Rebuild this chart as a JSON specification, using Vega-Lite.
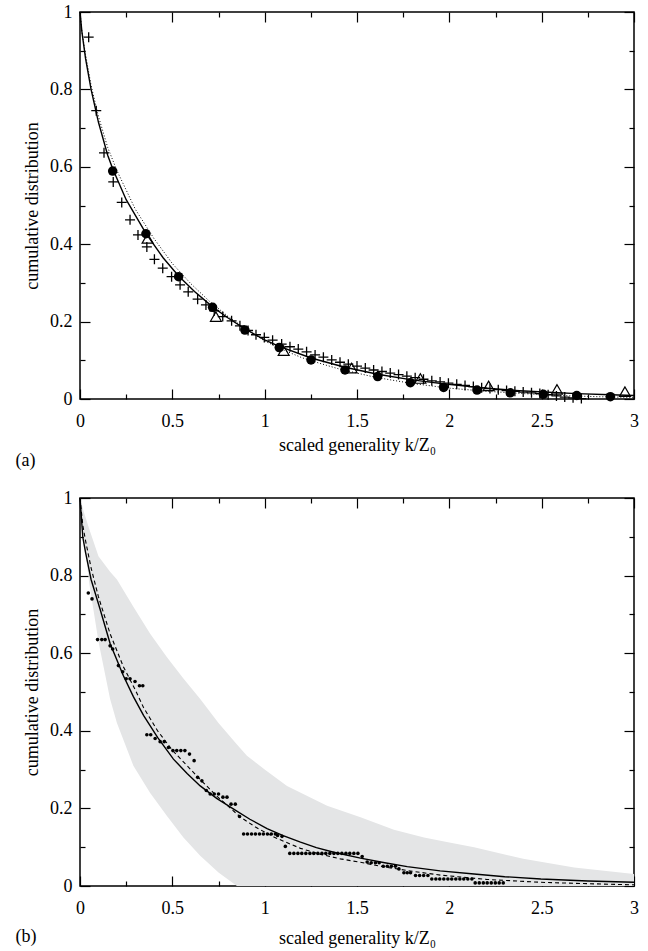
{
"$schema": "https://vega.github.io/schema/vega-lite/v6.json",
"padding": {"left": 14, "top": 2, "right": 12, "bottom": 0},
"spacing": 17,
"config": {
 "font": "Liberation Serif",
 "view": {"stroke": "black", "strokeWidth": 1.5},
 "axis": {"labelFont": "Liberation Serif", "labelFontSize": 18, "titleFont": "Liberation Serif", "titleFontSize": 18, "titleFontWeight": "normal", "labelColor": "black", "titleColor": "black", "tickColor": "black", "tickWidth": 1.2, "domain": false, "grid": false, "labelFlush": false, "labelOverlap": false}
},
"datasets": {
 "a_solid": [{"k":0,"v":1},{"k":0.01,"v":0.95},{"k":0.03,"v":0.88},{"k":0.06,"v":0.8},{"k":0.1,"v":0.715},{"k":0.15,"v":0.63},{"k":0.177,"v":0.595},{"k":0.25,"v":0.515},{"k":0.357,"v":0.428},{"k":0.45,"v":0.365},{"k":0.534,"v":0.318},{"k":0.62,"v":0.278},{"k":0.718,"v":0.238},{"k":0.8,"v":0.21},{"k":0.893,"v":0.181},{"k":1.0,"v":0.153},{"k":1.079,"v":0.136},{"k":1.251,"v":0.106},{"k":1.435,"v":0.082},{"k":1.612,"v":0.064},{"k":1.789,"v":0.05},{"k":1.969,"v":0.039},{"k":2.15,"v":0.03},{"k":2.33,"v":0.023},{"k":2.509,"v":0.018},{"k":2.69,"v":0.014},{"k":2.872,"v":0.011},{"k":3.0,"v":0.009}],
 "a_dot": [{"k":0,"v":1},{"k":0.01,"v":0.95},{"k":0.03,"v":0.89},{"k":0.06,"v":0.81},{"k":0.1,"v":0.73},{"k":0.15,"v":0.65},{"k":0.2,"v":0.59},{"k":0.3,"v":0.49},{"k":0.4,"v":0.415},{"k":0.5,"v":0.35},{"k":0.6,"v":0.298},{"k":0.7,"v":0.253},{"k":0.8,"v":0.214},{"k":0.9,"v":0.18},{"k":1.0,"v":0.15},{"k":1.1,"v":0.127},{"k":1.2,"v":0.107},{"k":1.3,"v":0.092},{"k":1.4,"v":0.078},{"k":1.6,"v":0.056},{"k":1.8,"v":0.04},{"k":2.0,"v":0.028},{"k":2.2,"v":0.02},{"k":2.4,"v":0.014},{"k":2.6,"v":0.009},{"k":2.8,"v":0.006},{"k":3.0,"v":0.004}],
 "a_cross": [{"k":0.047,"v":0.935},{"k":0.088,"v":0.745},{"k":0.13,"v":0.636},{"k":0.18,"v":0.561},{"k":0.226,"v":0.508},{"k":0.271,"v":0.463},{"k":0.314,"v":0.424},{"k":0.362,"v":0.393},{"k":0.403,"v":0.361},{"k":0.448,"v":0.338},{"k":0.496,"v":0.316},{"k":0.542,"v":0.295},{"k":0.586,"v":0.277},{"k":0.637,"v":0.258},{"k":0.682,"v":0.243},{"k":0.727,"v":0.228},{"k":0.773,"v":0.213},{"k":0.821,"v":0.202},{"k":0.866,"v":0.189},{"k":0.91,"v":0.177},{"k":0.953,"v":0.166},{"k":0.998,"v":0.159},{"k":1.043,"v":0.152},{"k":1.092,"v":0.142},{"k":1.137,"v":0.135},{"k":1.182,"v":0.129},{"k":1.227,"v":0.122},{"k":1.273,"v":0.114},{"k":1.318,"v":0.108},{"k":1.363,"v":0.101},{"k":1.408,"v":0.095},{"k":1.453,"v":0.09},{"k":1.5,"v":0.085},{"k":1.545,"v":0.08},{"k":1.59,"v":0.075},{"k":1.635,"v":0.071},{"k":1.68,"v":0.067},{"k":1.725,"v":0.063},{"k":1.77,"v":0.059},{"k":1.815,"v":0.055},{"k":1.86,"v":0.051},{"k":1.905,"v":0.047},{"k":1.95,"v":0.044},{"k":1.995,"v":0.041},{"k":2.04,"v":0.038},{"k":2.085,"v":0.035},{"k":2.13,"v":0.032},{"k":2.175,"v":0.029},{"k":2.22,"v":0.027},{"k":2.265,"v":0.024},{"k":2.31,"v":0.022},{"k":2.355,"v":0.02},{"k":2.4,"v":0.018},{"k":2.445,"v":0.016},{"k":2.49,"v":0.014},{"k":2.535,"v":0.011},{"k":2.58,"v":0.008},{"k":2.625,"v":0.005},{"k":2.67,"v":0.003},{"k":2.715,"v":0.001}],
 "a_circle": [{"k":0.177,"v":0.589},{"k":0.357,"v":0.427},{"k":0.534,"v":0.316},{"k":0.718,"v":0.237},{"k":0.893,"v":0.178},{"k":1.079,"v":0.133},{"k":1.251,"v":0.101},{"k":1.435,"v":0.075},{"k":1.612,"v":0.058},{"k":1.789,"v":0.042},{"k":1.969,"v":0.03},{"k":2.15,"v":0.023},{"k":2.33,"v":0.016},{"k":2.509,"v":0.012},{"k":2.69,"v":0.009},{"k":2.872,"v":0.006}],
 "a_tri": [{"k":0.366,"v":0.415},{"k":0.736,"v":0.213},{"k":1.103,"v":0.125},{"k":1.471,"v":0.08},{"k":1.843,"v":0.053},{"k":2.213,"v":0.034},{"k":2.583,"v":0.025},{"k":2.951,"v":0.019}],
 "b_band": [{"k":0,"v":1,"lo":1},{"k":0.02,"v":0.965,"lo":0.9},{"k":0.05,"v":0.92,"lo":0.78},{"k":0.1,"v":0.85,"lo":0.63},{"k":0.163,"v":0.81,"lo":0.482},{"k":0.2,"v":0.79,"lo":0.42},{"k":0.289,"v":0.72,"lo":0.31},{"k":0.38,"v":0.65,"lo":0.24},{"k":0.47,"v":0.59,"lo":0.181},{"k":0.56,"v":0.535,"lo":0.125},{"k":0.651,"v":0.482,"lo":0.078},{"k":0.75,"v":0.42,"lo":0.035},{"k":0.85,"v":0.365,"lo":0},{"k":0.904,"v":0.336,"lo":0},{"k":1.0,"v":0.3,"lo":0},{"k":1.121,"v":0.258,"lo":0},{"k":1.338,"v":0.207,"lo":0},{"k":1.519,"v":0.177,"lo":0},{"k":1.7,"v":0.145,"lo":0},{"k":1.863,"v":0.125,"lo":0},{"k":2.0,"v":0.112,"lo":0},{"k":2.134,"v":0.1,"lo":0},{"k":2.4,"v":0.07,"lo":0},{"k":2.676,"v":0.048,"lo":0},{"k":3.0,"v":0.031,"lo":0}],
 "b_solid": [{"k":0,"v":1},{"k":0.015,"v":0.9},{"k":0.03,"v":0.86},{"k":0.06,"v":0.79},{"k":0.1085,"v":0.714},{"k":0.163,"v":0.625},{"k":0.235,"v":0.542},{"k":0.289,"v":0.488},{"k":0.344,"v":0.44},{"k":0.42,"v":0.383},{"k":0.506,"v":0.327},{"k":0.58,"v":0.29},{"k":0.651,"v":0.258},{"k":0.74,"v":0.226},{"k":0.832,"v":0.198},{"k":0.92,"v":0.172},{"k":1.013,"v":0.148},{"k":1.1,"v":0.13},{"k":1.194,"v":0.113},{"k":1.28,"v":0.099},{"k":1.374,"v":0.087},{"k":1.519,"v":0.072},{"k":1.65,"v":0.06},{"k":1.772,"v":0.05},{"k":1.95,"v":0.039},{"k":2.134,"v":0.031},{"k":2.3,"v":0.024},{"k":2.496,"v":0.018},{"k":2.75,"v":0.013},{"k":3.0,"v":0.0095}],
 "b_dash": [{"k":0,"v":1},{"k":0.015,"v":0.93},{"k":0.03,"v":0.89},{"k":0.06,"v":0.82},{"k":0.1,"v":0.745},{"k":0.163,"v":0.65},{"k":0.235,"v":0.565},{"k":0.3,"v":0.505},{"k":0.344,"v":0.46},{"k":0.42,"v":0.4},{"k":0.5,"v":0.35},{"k":0.56,"v":0.32},{"k":0.65,"v":0.275},{"k":0.74,"v":0.232},{"k":0.868,"v":0.178},{"k":0.95,"v":0.152},{"k":1.05,"v":0.126},{"k":1.194,"v":0.097},{"k":1.3,"v":0.082},{"k":1.41,"v":0.07},{"k":1.519,"v":0.061},{"k":1.65,"v":0.049},{"k":1.8,"v":0.038},{"k":1.953,"v":0.028},{"k":2.2,"v":0.017},{"k":2.496,"v":0.0095},{"k":2.75,"v":0.006},{"k":3.0,"v":0.003}],
 "b_dots": [{"k":0.045,"v":0.755},{"k":0.065,"v":0.74},{"k":0.095,"v":0.635},{"k":0.118,"v":0.635},{"k":0.136,"v":0.635},{"k":0.163,"v":0.619},{"k":0.177,"v":0.611},{"k":0.208,"v":0.568},{"k":0.231,"v":0.552},{"k":0.25,"v":0.534},{"k":0.271,"v":0.534},{"k":0.298,"v":0.527},{"k":0.322,"v":0.516},{"k":0.34,"v":0.516},{"k":0.362,"v":0.39},{"k":0.383,"v":0.39},{"k":0.407,"v":0.38},{"k":0.434,"v":0.372},{"k":0.456,"v":0.372},{"k":0.479,"v":0.357},{"k":0.503,"v":0.349},{"k":0.524,"v":0.349},{"k":0.546,"v":0.349},{"k":0.568,"v":0.349},{"k":0.593,"v":0.34},{"k":0.618,"v":0.323},{"k":0.637,"v":0.28},{"k":0.66,"v":0.271},{"k":0.684,"v":0.246},{"k":0.705,"v":0.237},{"k":0.727,"v":0.237},{"k":0.75,"v":0.237},{"k":0.774,"v":0.229},{"k":0.796,"v":0.229},{"k":0.818,"v":0.211},{"k":0.841,"v":0.211},{"k":0.864,"v":0.179},{"k":0.886,"v":0.134},{"k":0.907,"v":0.134},{"k":0.929,"v":0.134},{"k":0.95,"v":0.134},{"k":0.972,"v":0.134},{"k":0.993,"v":0.134},{"k":1.015,"v":0.134},{"k":1.036,"v":0.134},{"k":1.058,"v":0.134},{"k":1.07,"v":0.13},{"k":1.094,"v":0.128},{"k":1.112,"v":0.102},{"k":1.136,"v":0.084},{"k":1.158,"v":0.084},{"k":1.18,"v":0.084},{"k":1.201,"v":0.084},{"k":1.223,"v":0.084},{"k":1.245,"v":0.084},{"k":1.266,"v":0.084},{"k":1.288,"v":0.084},{"k":1.31,"v":0.084},{"k":1.331,"v":0.084},{"k":1.353,"v":0.084},{"k":1.375,"v":0.084},{"k":1.396,"v":0.084},{"k":1.418,"v":0.084},{"k":1.44,"v":0.084},{"k":1.461,"v":0.084},{"k":1.483,"v":0.084},{"k":1.505,"v":0.084},{"k":1.528,"v":0.076},{"k":1.555,"v":0.062},{"k":1.577,"v":0.06},{"k":1.6,"v":0.06},{"k":1.62,"v":0.06},{"k":1.642,"v":0.051},{"k":1.664,"v":0.051},{"k":1.686,"v":0.051},{"k":1.708,"v":0.051},{"k":1.727,"v":0.044},{"k":1.754,"v":0.034},{"k":1.772,"v":0.034},{"k":1.79,"v":0.034},{"k":1.817,"v":0.027},{"k":1.839,"v":0.027},{"k":1.861,"v":0.027},{"k":1.884,"v":0.027},{"k":1.905,"v":0.018},{"k":1.927,"v":0.018},{"k":1.948,"v":0.018},{"k":1.97,"v":0.018},{"k":1.992,"v":0.018},{"k":2.013,"v":0.018},{"k":2.035,"v":0.018},{"k":2.057,"v":0.018},{"k":2.078,"v":0.018},{"k":2.1,"v":0.018},{"k":2.122,"v":0.018},{"k":2.14,"v":0.008},{"k":2.162,"v":0.008},{"k":2.184,"v":0.008},{"k":2.205,"v":0.008},{"k":2.227,"v":0.008},{"k":2.249,"v":0.008},{"k":2.27,"v":0.008},{"k":2.292,"v":0.008}],
 "dummy": [{"k":0,"v":0}]
},
"vconcat": [
 {
  "title": {"text": "(a)", "orient": "bottom", "anchor": "start", "frame": "bounds", "fontSize": 18, "font": "Liberation Serif", "fontWeight": "normal", "offset": -2, "dx": -8},
  "width": 554, "height": 387,
  "layer": [
   {
    "encoding": {
     "x": {"field": "k", "type": "quantitative", "scale": {"domain": [0, 3], "nice": false, "zero": false},
       "axis": {"orient": "bottom", "values": [0,0.25,0.5,0.75,1,1.25,1.5,1.75,2,2.25,2.5,2.75,3], "labelExpr": "(datum.value*2)%1===0 ? format(datum.value,'~g') : ''", "tickSize": {"condition": {"test": "(datum.value*2)%1!==0", "value": -5}, "value": -10}, "title": "scaled generality k/Z₀", "labelPadding": 23, "titlePadding": 1}},
     "y": {"field": "v", "type": "quantitative", "scale": {"domain": [0, 1], "nice": false, "zero": false},
       "axis": {"orient": "left", "values": [0,0.1,0.2,0.3,0.4,0.5,0.6,0.7,0.8,0.9,1], "labelExpr": "round(datum.value*10)%2===0 ? format(datum.value,'~g') : ''", "tickSize": {"condition": {"test": "round(datum.value*10)%2!==0", "value": -5}, "value": -10}, "title": "cumulative distribution", "labelPadding": 18, "titlePadding": 8}}
    },
    "layer": [
     {"data": {"name": "a_dot"}, "mark": {"type": "line", "color": "black", "strokeWidth": 1, "strokeDash": [1, 2]}},
     {"data": {"name": "a_solid"}, "mark": {"type": "line", "color": "black", "strokeWidth": 1.4}},
     {"data": {"name": "a_cross"}, "mark": {"type": "point", "shape": "M-1,0L1,0M0,-1L0,1", "filled": false, "color": "black", "strokeWidth": 1.3, "size": 100, "opacity": 1}},
     {"data": {"name": "a_circle"}, "mark": {"type": "circle", "color": "black", "size": 90, "opacity": 1}},
     {"data": {"name": "a_tri"}, "mark": {"type": "point", "shape": "triangle-up", "filled": false, "color": "black", "strokeWidth": 1.2, "size": 120, "opacity": 1}}
    ]
   },
   {
    "data": {"name": "dummy"},
    "mark": {"type": "point", "opacity": 0},
    "encoding": {
     "x": {"field": "k", "type": "quantitative", "scale": {"domain": [0, 3], "nice": false, "zero": false},
       "axis": {"orient": "top", "values": [0,0.25,0.5,0.75,1,1.25,1.5,1.75,2,2.25,2.5,2.75,3], "labels": false, "title": null, "tickSize": {"condition": {"test": "(datum.value*2)%1!==0", "value": -5}, "value": -10}}},
     "y": {"field": "v", "type": "quantitative", "scale": {"domain": [0, 1], "nice": false, "zero": false},
       "axis": {"orient": "right", "values": [0,0.1,0.2,0.3,0.4,0.5,0.6,0.7,0.8,0.9,1], "labels": false, "title": null, "tickSize": {"condition": {"test": "round(datum.value*10)%2!==0", "value": -5}, "value": -10}}}
    }
   }
  ],
  "resolve": {"scale": {"x": "independent", "y": "independent"}}
 },
 {
  "title": {"text": "(b)", "orient": "bottom", "anchor": "start", "frame": "bounds", "fontSize": 18, "font": "Liberation Serif", "fontWeight": "normal", "offset": -19, "dx": -8},
  "width": 554, "height": 388,
  "layer": [
   {
    "encoding": {
     "x": {"field": "k", "type": "quantitative", "scale": {"domain": [0, 3], "nice": false, "zero": false},
       "axis": {"orient": "bottom", "values": [0,0.25,0.5,0.75,1,1.25,1.5,1.75,2,2.25,2.5,2.75,3], "labelExpr": "(datum.value*2)%1===0 ? format(datum.value,'~g') : ''", "tickSize": {"condition": {"test": "(datum.value*2)%1!==0", "value": -5}, "value": -10}, "title": "scaled generality k/Z₀", "labelPadding": 23, "titlePadding": 7}},
     "y": {"field": "v", "type": "quantitative", "scale": {"domain": [0, 1], "nice": false, "zero": false},
       "axis": {"orient": "left", "values": [0,0.1,0.2,0.3,0.4,0.5,0.6,0.7,0.8,0.9,1], "labelExpr": "round(datum.value*10)%2===0 ? format(datum.value,'~g') : ''", "tickSize": {"condition": {"test": "round(datum.value*10)%2!==0", "value": -5}, "value": -10}, "title": "cumulative distribution", "labelPadding": 18, "titlePadding": 8}}
    },
    "layer": [
     {"data": {"name": "b_band"}, "mark": {"type": "area", "color": "#e4e5e6", "opacity": 1}, "encoding": {"y2": {"field": "lo"}}},
     {"data": {"name": "b_dash"}, "mark": {"type": "line", "color": "black", "strokeWidth": 1.1, "strokeDash": [4, 3]}},
     {"data": {"name": "b_solid"}, "mark": {"type": "line", "color": "black", "strokeWidth": 1.4}},
     {"data": {"name": "b_dots"}, "mark": {"type": "circle", "color": "black", "size": 13, "opacity": 1}}
    ]
   },
   {
    "data": {"name": "dummy"},
    "mark": {"type": "point", "opacity": 0},
    "encoding": {
     "x": {"field": "k", "type": "quantitative", "scale": {"domain": [0, 3], "nice": false, "zero": false},
       "axis": {"orient": "top", "values": [0,0.25,0.5,0.75,1,1.25,1.5,1.75,2,2.25,2.5,2.75,3], "labels": false, "title": null, "tickSize": {"condition": {"test": "(datum.value*2)%1!==0", "value": -5}, "value": -10}}},
     "y": {"field": "v", "type": "quantitative", "scale": {"domain": [0, 1], "nice": false, "zero": false},
       "axis": {"orient": "right", "values": [0,0.1,0.2,0.3,0.4,0.5,0.6,0.7,0.8,0.9,1], "labels": false, "title": null, "tickSize": {"condition": {"test": "round(datum.value*10)%2!==0", "value": -5}, "value": -10}}}
    }
   }
  ],
  "resolve": {"scale": {"x": "independent", "y": "independent"}}
 }
]
}
